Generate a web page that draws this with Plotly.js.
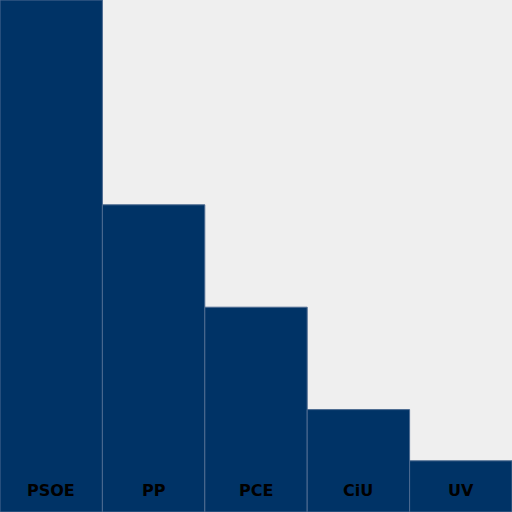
<!DOCTYPE html>
<html>
<head>
<meta charset="utf-8">
<script src="https://cdn.plot.ly/plotly-3.0.1.min.js"></script>
<style>
  html, body { margin: 0; padding: 0; background: #efefef; }
  #chart { width: 512px; height: 512px; }
</style>
</head>
<body>
<div id="chart"></div>
<script>
const partidos = ["PSOE", "PP", "PCE", "CiU", "UV"];
const valores = [10, 6, 4, 2, 1];

const trace = {
    type: "bar",
    x: partidos,
    y: valores,
    marker: { color: "#003366", line: { color: "#4d6b91", width: 1 } },
    hoverinfo: "none",
};

// etiquetas dentro das barras, perto da base
const etiquetas = partidos.map((p) => ({
    x: p,
    y: 0,
    xref: "x",
    yref: "y",
    text: "<b>" + p + "</b>",
    showarrow: false,
    yanchor: "middle",
    yshift: 22,
    font: { family: "DejaVu Sans", size: 16, color: "#000000" },
}));

const layout = {
    width: 512,
    height: 512,
    margin: { l: 0, r: 0, t: 0, b: 0 },
    paper_bgcolor: "#efefef",
    plot_bgcolor: "#efefef",
    bargap: 0,
    showlegend: false,
    xaxis: { visible: false },
    yaxis: { visible: false, range: [0, 10] },
    annotations: etiquetas,
};

Plotly.newPlot("chart", [trace], layout, { displayModeBar: false, staticPlot: true });
</script>
</body>
</html>
